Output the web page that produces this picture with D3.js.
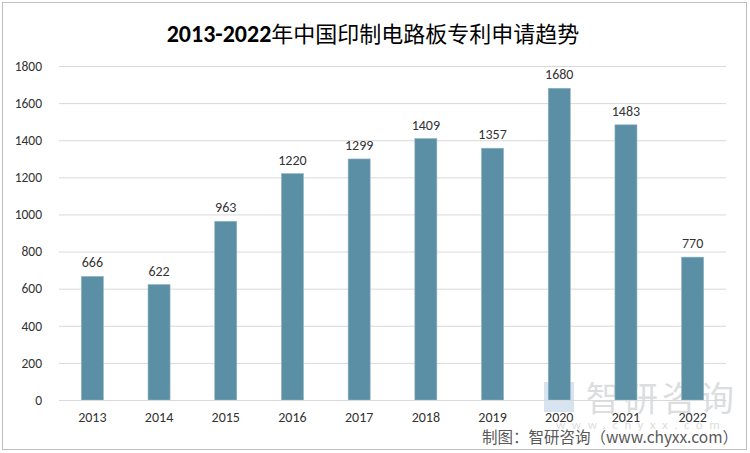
<!DOCTYPE html>
<html><head><meta charset="utf-8">
<script src="https://cdn.jsdelivr.net/npm/d3@7"></script>
<style>body{margin:0;background:#fff}svg{display:block}</style>
</head><body>
<svg id="c" width="750" height="453"></svg>
<script>
const years = ["2013","2014","2015","2016","2017","2018","2019","2020","2021","2022"];
const patents = [666,622,963,1220,1299,1409,1357,1680,1483,770];
const yTicks = [0,200,400,600,800,1000,1200,1400,1600,1800];
const titleNum = "2013-2022";
const titleText = "年中国印制电路板专利申请趋势";
const source = "制图：智研咨询（www.chyxx.com）";

const svg = d3.select("#c");
const W = 750, H = 453;
const m = {left:59, right:24, top:66, bottom:53};
const x = d3.scaleBand().domain(years).range([m.left, W - m.right]).paddingInner(0.67).paddingOuter(0.335);
const y = d3.scaleLinear().domain([0,1800]).range([H - m.bottom, m.top]);
const font = "Carlito, 'Liberation Sans', 'Noto Sans', sans-serif";
const cjk = "'Noto Sans CJK SC', sans-serif";

svg.append("rect").attr("x",2.5).attr("y",2.5).attr("width",744).attr("height",447)
  .attr("fill","#fff").attr("stroke","#bfbfbf").attr("stroke-width",1);

const t = svg.append("text").attr("x",373).attr("y",42).attr("text-anchor","middle").attr("fill","#000");
t.append("tspan").attr("font-family",font).attr("font-size",24).attr("font-weight","bold").text(titleNum);
t.append("tspan").attr("font-family",cjk).attr("font-size",22).attr("font-weight",400).text(titleText);

// grid
const yAxis = d3.axisLeft(y).tickValues(yTicks).tickFormat(d3.format("d"))
  .tickSize(-(W - m.left - m.right)).tickPadding(17);
const gy = svg.append("g").attr("transform",`translate(${m.left},0)`).call(yAxis);
gy.select(".domain").remove();
gy.selectAll(".tick line").attr("stroke","#d9d9d9");
gy.selectAll(".tick text").attr("font-family",font).attr("font-size",13.5).attr("fill","#333");

// watermark
const wm = svg.append("g").attr("opacity",0.35);
wm.append("text").attr("x",586).attr("y",411).attr("font-family",cjk)
  .attr("font-size",34).attr("fill","#9aa0a6").attr("letter-spacing",4).text("智研咨询");
wm.append("rect").attr("x",544).attr("y",382).attr("width",30).attr("height",30).attr("fill","#8fb0d0");
wm.append("text").attr("x",556).attr("y",429).attr("font-family",font)
  .attr("font-size",13).attr("fill","#9aa0a6").attr("letter-spacing",6.5).text("www.chyxx.com");

// bars
svg.append("g").selectAll("rect").data(patents).join("rect")
  .attr("x",(d,i)=>x(years[i])).attr("y",d=>y(d))
  .attr("width",x.bandwidth()).attr("height",d=>y(0)-y(d))
  .attr("fill","#5b8fa6").attr("stroke","#8fb3c3").attr("stroke-width",0.6);

svg.append("g").selectAll("text").data(patents).join("text")
  .attr("x",(d,i)=>x(years[i])+x.bandwidth()/2).attr("y",d=>y(d)-9)
  .attr("text-anchor","middle").attr("font-family",font).attr("font-size",14).attr("fill","#333")
  .text(d=>d);

// x axis
const xAxis = d3.axisBottom(x).tickSize(0).tickPadding(12);
const gx = svg.append("g").attr("transform",`translate(0,${y(0)})`).call(xAxis);
gx.select(".domain").attr("stroke","#d9d9d9");
gx.selectAll(".tick text").attr("font-family",font).attr("font-size",14).attr("fill","#333");

svg.append("text").attr("x",738).attr("y",443).attr("text-anchor","end")
  .attr("font-family",cjk).attr("font-size",15.5).attr("fill","#595959")
  .text(source);
</script>
</body></html>
